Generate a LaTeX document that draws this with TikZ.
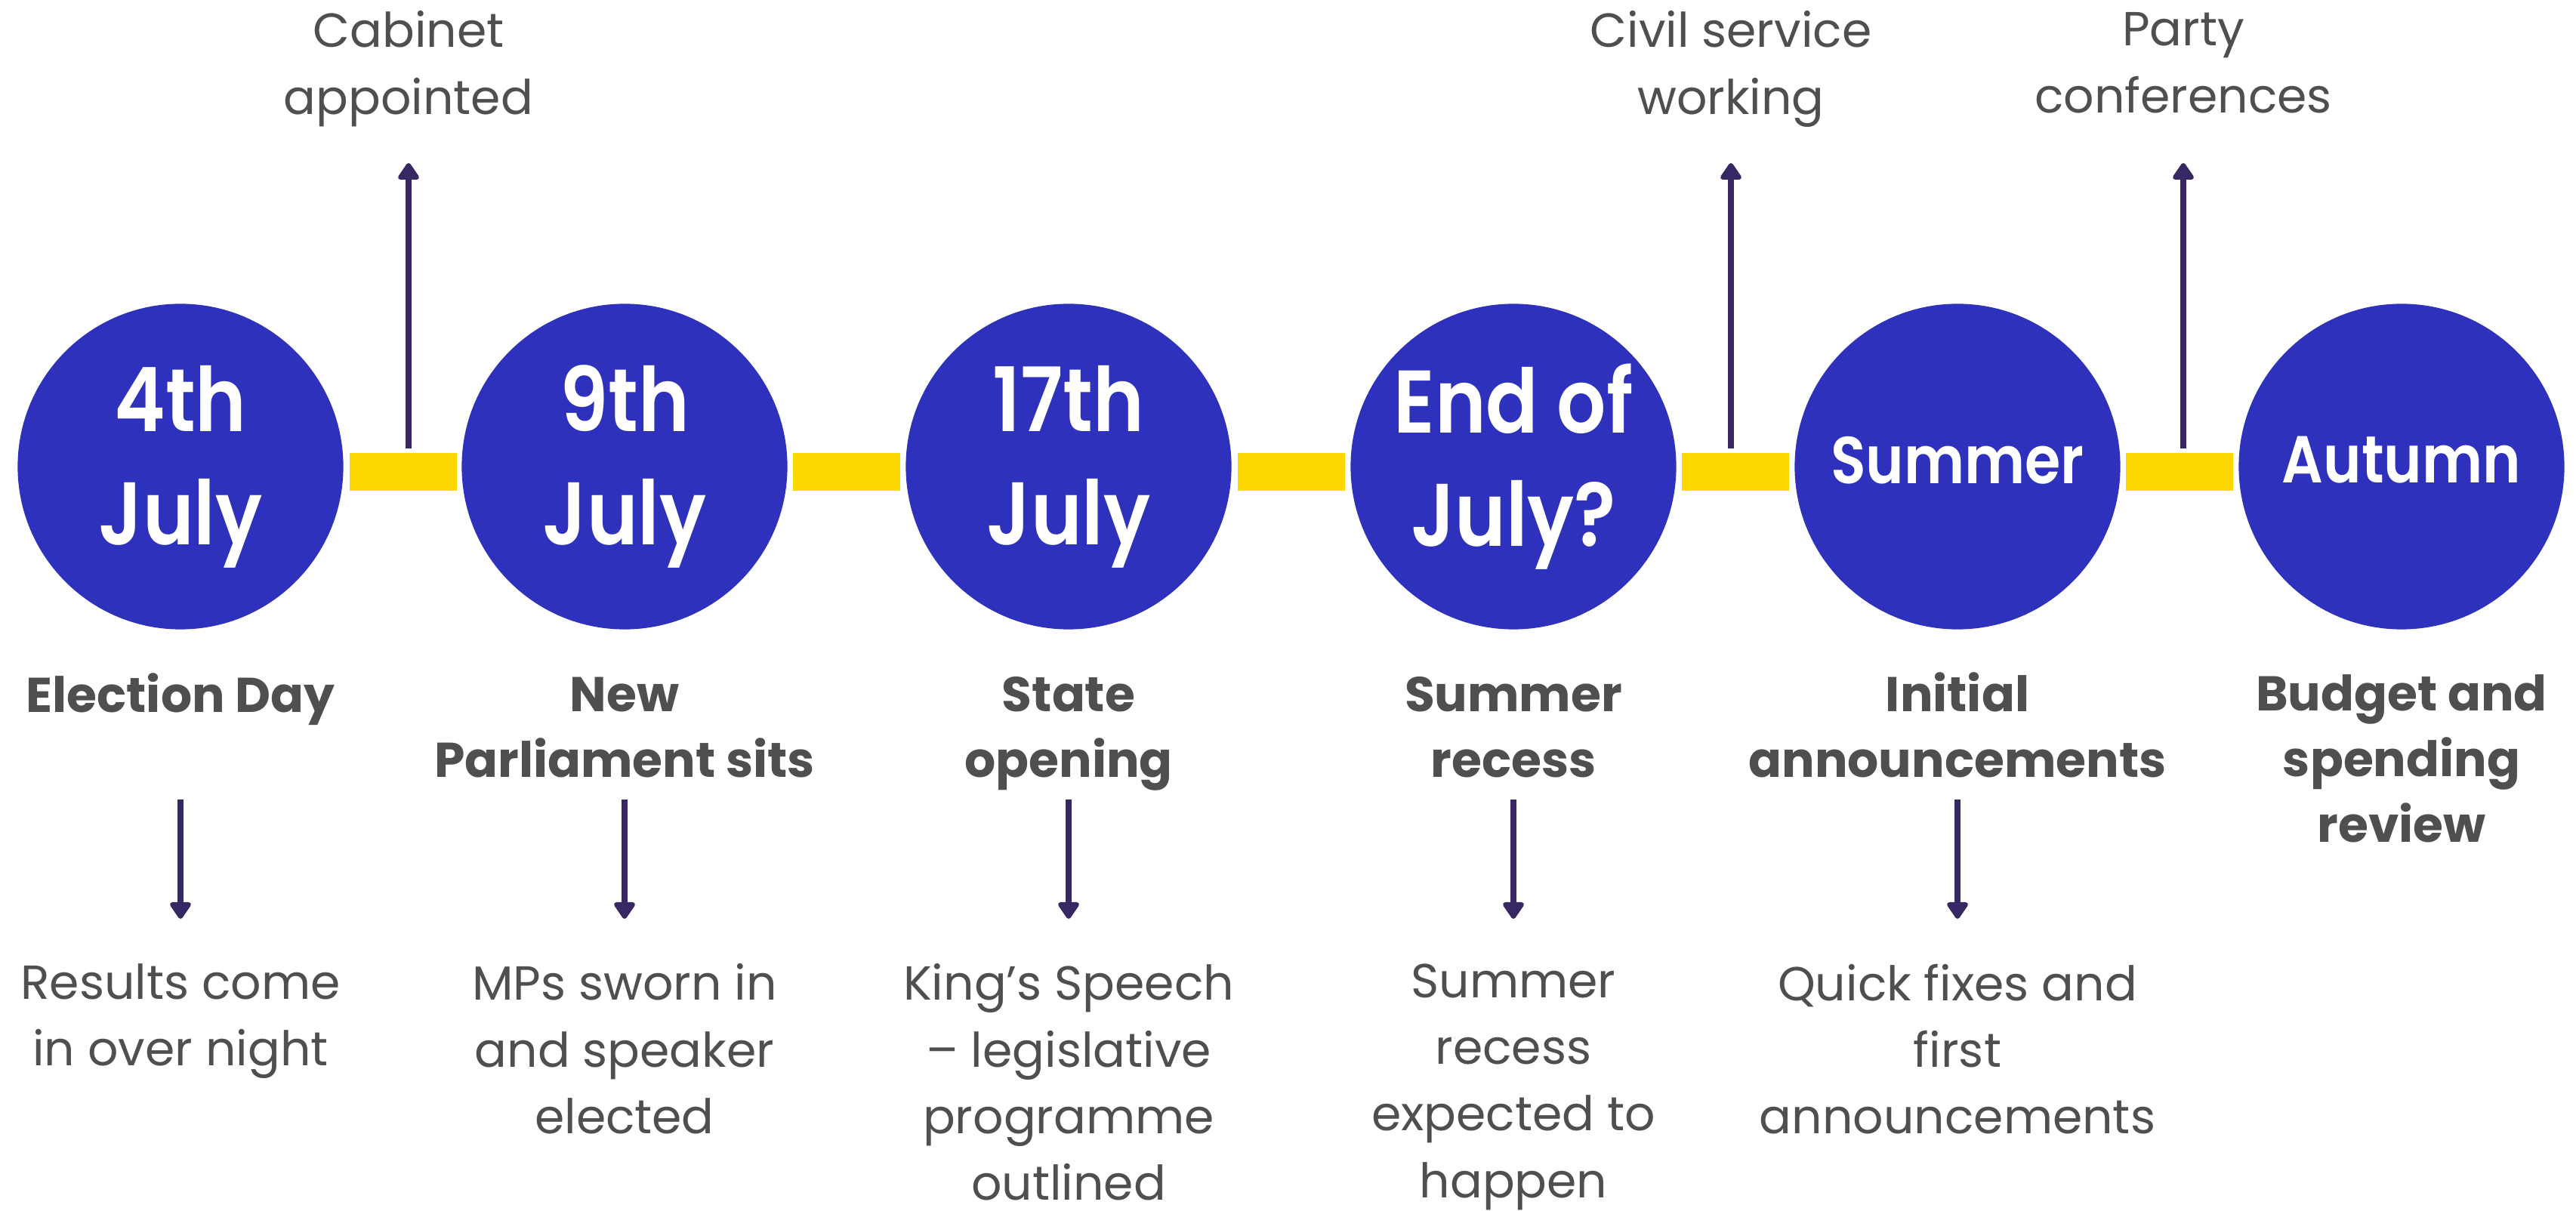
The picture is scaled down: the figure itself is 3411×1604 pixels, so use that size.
\documentclass[tikz,border=0pt]{standalone}
\usepackage{fontspec}
\setmainfont{Poppins}
\newfontfamily\datefont[FakeStretch=0.87]{Poppins SemiBold}
\usetikzlibrary{arrows.meta}
\definecolor{dateblue}{HTML}{2E31BB}
\definecolor{baryellow}{HTML}{FFD800}
\definecolor{arrowpurple}{HTML}{372863}
\definecolor{textgrey}{HTML}{4F4F4F}

\begin{document}
\begin{tikzpicture}[x=0.01cm,y=-0.01cm,
  date/.style={circle,fill=dateblue,minimum size=4.31cm,inner sep=0pt,text=white,align=center,font=\datefont\fontsize{33.5pt}{42.7pt}\selectfont},
  season/.style={date,font=\datefont\fontsize{25pt}{30pt}\selectfont},
  bar/.style={fill=baryellow,minimum width=1.41cm,minimum height=0.49cm,inner sep=0pt},
  title/.style={anchor=north,inner sep=0pt,align=center,text=textgrey,font=\bfseries\fontsize{18.4pt}{24.75pt}\selectfont},
  note/.style={anchor=north,inner sep=0pt,align=center,text=textgrey,font=\fontsize{18pt}{25.1pt}\selectfont},
  arr/.style={-{Triangle[length=7pt,width=9pt,round]},line width=2.5pt,draw=arrowpurple,fill=arrowpurple}]
\useasboundingbox (0,0) rectangle (3411,1604);

% dates
\node[date] (d1) at (239,618) {4th\\July};
\node[date] (d2) at (827,618) {9th\\July};
\node[date] (d3) at (1415,618) {17th\\July};
\node[date] (d4) at (2004,618) {End of\\July?};
\node[season] (d5) at (2592,618) {\raisebox{5pt}{Summer}};
\node[season] (d6) at (3180,618) {\raisebox{5pt}{Autumn}};

% yellow links
\node[bar] (b1) at (534,625) {};
\node[bar] (b2) at (1121,625) {};
\node[bar] (b3) at (1710,625) {};
\node[bar] (b4) at (2298,625) {};
\node[bar] (b5) at (2886,625) {};

% what happens in between
\node[note] (u1) at (541,14) {Cabinet\\appointed};
\node[note] (u4) at (2292,14) {Civil service\\working};
\node[note] (u5) at (2891,16) {Party\\conferences};
\coordinate (cab) at (541,216);
\coordinate (civ) at (2292,216);
\coordinate (conf) at (2891,216);
\draw[arr,shorten <=0.06cm] (b1.north -| cab) -- (cab);
\draw[arr,shorten <=0.06cm] (b4.north -| civ) -- (civ);
\draw[arr,shorten <=0.06cm] (b5.north -| conf) -- (conf);

% titles
\node[title] (t1) at (239,891) {Election Day};
\node[title] (t2) at (827,896) {New\\Parliament sits};
\node[title] (t3) at (1415,896) {State\\opening};
\node[title] (t4) at (2004,896) {Summer\\recess};
\node[title] (t5) at (2592,890) {Initial\\announcements};
\node[title] (t6) at (3180,893) {Budget and\\spending\\review};

% details
\node[note] (n1) at (239,1276) {Results come\\in over night};
\node[note] (n2) at (827,1276) {MPs sworn in\\and speaker\\elected};
\node[note] (n3) at (1415,1276) {King’s Speech\\– legislative\\programme\\outlined};
\node[note] (n4) at (2004,1276) {Summer\\recess\\expected to\\happen};
\node[note] (n5) at (2592,1276) {Quick fixes and\\first\\announcements};
\coordinate (s1) at (239,1059);
\coordinate (s2) at (827,1059);
\coordinate (s3) at (1415,1059);
\coordinate (s4) at (2004,1059);
\coordinate (s5) at (2592,1059);
\draw[arr,shorten >=0.59cm] (s1) -- (n1);
\draw[arr,shorten >=0.59cm] (s2) -- (n2);
\draw[arr,shorten >=0.59cm] (s3) -- (n3);
\draw[arr,shorten >=0.59cm] (s4) -- (n4);
\draw[arr,shorten >=0.59cm] (s5) -- (n5);
\end{tikzpicture}
\end{document}
